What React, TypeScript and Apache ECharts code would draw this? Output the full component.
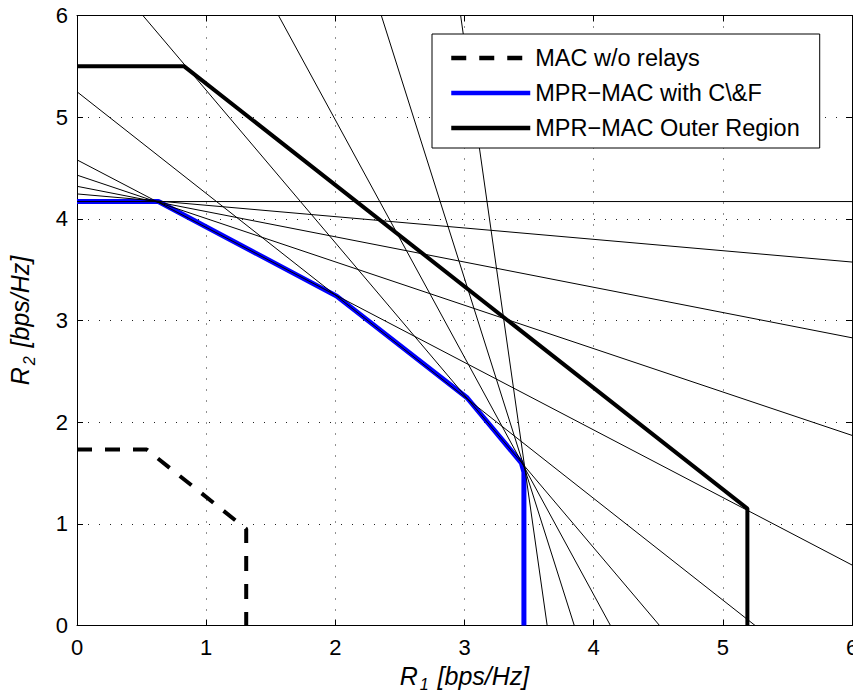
import React, { useEffect, useRef } from "react";
import * as echarts from "echarts";

// MAC w/o relays (dashed)
const macR1 = [0, 0.54, 1.31, 1.31];
const macR2 = [1.73, 1.73, 0.95, 0];
// MPR-MAC with C&F (blue)
const cfR1 = [0, 0.63, 2.01, 3.02, 3.44, 3.46, 3.46];
const cfR2 = [4.17, 4.17, 3.24, 2.24, 1.6, 1.51, 0];
// MPR-MAC Outer Region (thick black)
const outerR1 = [0, 0.83, 5.19, 5.19];
const outerR2 = [5.5, 5.5, 1.15, 0];
// thin constraint lines: start and end points
const boundStartR1 = [0, 0, 0, 0, 0, 0, 0.51, 1.56, 2.356, 2.97];
const boundStartR2 = [4.17, 4.245, 4.32, 4.43, 4.58, 5.25, 6, 6, 6, 6];
const boundEndR1 = [6, 6, 6, 6, 6, 5.25, 4.51, 4.13, 3.85, 3.64];
const boundEndR2 = [4.17, 3.575, 2.83, 1.87, 0.595, 0, 0, 0, 0, 0];

const xTicks = [0, 1, 2, 3, 4, 5, 6];
const yTicks = [0, 1, 2, 3, 4, 5, 6];

const seriesNames = ["MAC w/o relays", "MPR\u2212MAC with C\\&F", "MPR\u2212MAC Outer Region"];

const FONT = "'Liberation Sans', Arial, Helvetica, sans-serif";

function zip(a: number[], b: number[]) {
  return a.map((v, i) => [v, b[i]]);
}

export default function App() {
  const ref = useRef<HTMLDivElement>(null);
  useEffect(() => {
    document.body.style.margin = "0";
    const chart = echarts.init(ref.current!, null, { renderer: "svg" });
    const thin = boundStartR1.map((_, i) => ({
      type: "line",
      name: "bound" + i,
      data: [
        [boundStartR1[i], boundStartR2[i]],
        [boundEndR1[i], boundEndR2[i]],
      ],
      symbol: "none",
      silent: true,
      lineStyle: { color: "#000", width: 1 },
      z: 3,
    }));
    const axisCommon = {
      type: "value",
      min: xTicks[0],
      max: xTicks[xTicks.length - 1],
      interval: 1,
      axisLine: { show: true, onZero: false, lineStyle: { color: "#000", width: 1 } },
      axisTick: { show: true, inside: true, length: 6, lineStyle: { color: "#000", width: 1 } },
    };
    const richName = {
      i: { fontStyle: "italic", fontSize: 25, fontFamily: FONT, color: "#000" },
      s: { fontStyle: "italic", fontSize: 16, fontFamily: FONT, color: "#000", padding: [18, 2, 0, 2] },
    };
    const option = {
      animation: false,
      backgroundColor: "#fff",
      grid: {
        left: 77,
        right: 1,
        top: 15.5,
        bottom: 69.5,
        containLabel: false,
        outerBoundsMode: "none",
      },
      legend: {
        orient: "vertical",
        left: 432,
        top: 34,
        padding: [12, 20, 8, 17],
        itemGap: 11,
        itemWidth: 79,
        itemHeight: 14,
        borderColor: "#000",
        borderWidth: 1,
        backgroundColor: "#fff",
        itemStyle: { color: "rgba(0,0,0,0)", borderColor: "rgba(0,0,0,0)", borderWidth: 0, opacity: 0 },
        lineStyle: { width: 4.5 },
        textStyle: { fontSize: 23.5, color: "#000", fontFamily: FONT },
        data: seriesNames,
        z: 10,
      },
      xAxis: [
        {
          ...axisCommon,
          position: "bottom",
          name: "{i|R}{s|1}{i| [bps/Hz]}",
          nameLocation: "middle",
          nameGap: 28,
          nameTextStyle: { rich: richName },
          axisLabel: {
            show: true,
            fontSize: 22,
            color: "#000",
            fontFamily: FONT,
            margin: 11,
            formatter: (v: number) => String(v),
          },
          splitLine: { show: true, lineStyle: { color: "#222", width: 1, type: [1, 10] } },
        },
        {
          ...axisCommon,
          position: "top",
          axisLabel: { show: false },
          splitLine: { show: false },
        },
      ],
      yAxis: [
        {
          ...axisCommon,
          min: yTicks[0],
          max: yTicks[yTicks.length - 1],
          position: "left",
          name: "{i|R}{s|2}{i| [bps/Hz]}",
          nameLocation: "middle",
          nameRotate: 90,
          nameGap: 40,
          nameTextStyle: { rich: richName },
          axisLabel: {
            show: true,
            fontSize: 22,
            color: "#000",
            fontFamily: FONT,
            margin: 9,
            formatter: (v: number) => String(v),
          },
          splitLine: { show: true, lineStyle: { color: "#222", width: 1, type: [1, 10] } },
        },
        {
          ...axisCommon,
          min: yTicks[0],
          max: yTicks[yTicks.length - 1],
          position: "right",
          axisLabel: { show: false },
          splitLine: { show: false },
        },
      ],
      series: [
        {
          type: "line",
          name: seriesNames[0],
          data: zip(macR1, macR2),
          symbol: "none",
          lineStyle: { color: "#000", width: 4, type: [15, 13], cap: "butt" },
          itemStyle: { color: "#000" },
          z: 2,
        },
        {
          type: "line",
          name: seriesNames[1],
          data: zip(cfR1, cfR2),
          symbol: "none",
          lineStyle: { color: "#0000ff", width: 5 },
          itemStyle: { color: "#0000ff" },
          z: 2,
        },
        ...thin,
        {
          type: "line",
          name: seriesNames[2],
          data: zip(outerR1, outerR2),
          symbol: "none",
          lineStyle: { color: "#000", width: 4 },
          itemStyle: { color: "#000" },
          z: 4,
        },
      ],
    };
    chart.setOption(option as any);
    return () => chart.dispose();
  }, []);
  return (
    <div
      ref={ref}
      style={{ position: "fixed", left: 0, top: 0, width: 853, height: 695 }}
    />
  );
}
